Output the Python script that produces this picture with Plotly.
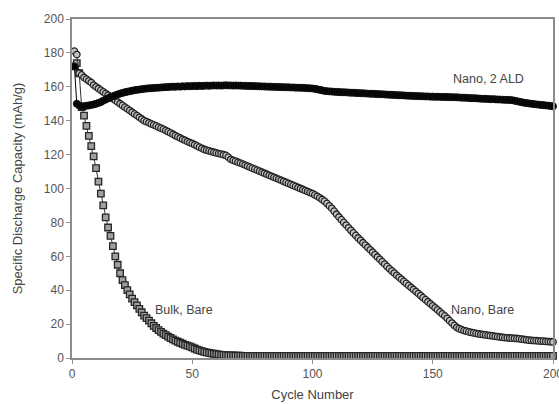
import plotly.graph_objects as go

cycles = list(range(1, 201))

nano_2ald = [
    172, 150, 149, 148.5, 148.5, 148.8, 149, 149.3, 149.6, 150,
    150.5, 151, 151.8, 152.5, 153.2, 153.8, 154.4, 155, 155.5, 156,
    156.4, 156.8, 157.1, 157.4, 157.7, 158, 158.2, 158.4, 158.6, 158.8,
    159, 159.1, 159.2, 159.3, 159.4, 159.5, 159.6, 159.7, 159.8, 159.9,
    160, 160.1, 160, 160.2, 160.1, 160.3, 160.2, 160.4, 160.3, 160.4,
    160.5, 160.4, 160.6, 160.5, 160.6, 160.7, 160.6, 160.7, 160.8, 160.7,
    160.8, 160.7, 160.8, 160.9, 160.8, 160.8, 160.7, 160.8, 160.7, 160.7,
    160.6, 160.6, 160.5, 160.5, 160.4, 160.4, 160.3, 160.3, 160.2, 160.2,
    160.1, 160.1, 160, 160, 159.9, 159.9, 159.8, 159.8, 159.7, 159.7,
    159.6, 159.6, 159.5, 159.5, 159.4, 159.4, 159.3, 159.2, 159.1, 159,
    158.8, 158.5, 158.2, 157.9, 157.6, 157.4, 157.3, 157.2, 157.1, 157,
    156.9, 156.8, 156.8, 156.7, 156.6, 156.5, 156.5, 156.4, 156.3, 156.2,
    156.2, 156.1, 156, 155.9, 155.9, 155.8, 155.7, 155.6, 155.6, 155.5,
    155.4, 155.3, 155.3, 155.2, 155.1, 155, 155, 154.9, 154.8, 154.7,
    154.7, 154.6, 154.5, 154.5, 154.4, 154.4, 154.3, 154.3, 154.2, 154.2,
    154.1, 154.1, 154.1, 154, 154, 154, 153.9, 153.9, 153.8, 153.8,
    153.7, 153.6, 153.6, 153.5, 153.4, 153.3, 153.3, 153.2, 153.1, 153,
    152.9, 152.9, 152.8, 152.7, 152.7, 152.6, 152.5, 152.5, 152.4, 152.3,
    152.3, 152.2, 152.1, 151.8, 151.5, 151.2, 150.9, 150.6, 150.4, 150.2,
    150, 149.8, 149.6, 149.5, 149.3, 149.2, 149, 148.9, 148.7, 148.5,
]

nano_bare = [
    181, 179, 168, 167, 165.5, 164.5, 163.5, 162.5, 161, 160,
    159, 158, 157, 156, 155, 154, 153, 152, 151, 150,
    149, 148, 147, 146, 145, 144, 143, 142, 141, 140,
    139.4, 138.8, 138.1, 137.5, 136.9, 136.2, 135.6, 135, 134.2, 133.5,
    132.8, 132, 131.2, 130.5, 129.8, 129, 128.4, 127.7, 127.1, 126.5,
    125.8, 125.1, 124.4, 123.7, 123, 122.6, 122.2, 121.8, 121.4, 121,
    120.6, 120.3, 119.9, 119.5, 118.5, 117.2, 116.6, 116.1, 115.5, 115,
    114.4, 113.8, 113.2, 112.6, 112, 111.4, 110.8, 110.2, 109.6, 109,
    108.4, 107.8, 107.2, 106.6, 106, 105.4, 104.8, 104.2, 103.6, 103,
    102.4, 101.8, 101.2, 100.6, 100, 99.4, 98.8, 98.2, 97.6, 97,
    96.2, 95.4, 94.5, 93.5, 92.5, 91.2, 89.8, 88.3, 86.6, 84.8,
    83.2, 81.6, 80, 78.4, 76.8, 75.3, 73.8, 72.3, 70.8, 69.4,
    68, 66.6, 65.2, 63.8, 62.4, 61, 59.6, 58.2, 56.8, 55.4,
    54, 52.7, 51.4, 50.1, 48.8, 47.6, 46.4, 45.2, 44, 42.8,
    41.6, 40.4, 39.2, 38, 36.8, 35.6, 34.4, 33.2, 32, 30.8,
    29.6, 28.4, 27.2, 26, 24.8, 23.4, 22, 20.6, 19.2, 18,
    17.3, 16.7, 16.2, 15.8, 15.4, 15.1, 14.8, 14.5, 14.2, 14,
    13.8, 13.6, 13.4, 13.2, 13, 12.8, 12.6, 12.4, 12.2, 12,
    11.9, 11.8, 11.7, 11.6, 11.5, 11.3, 11.1, 10.9, 10.7, 10.5,
    10.4, 10.3, 10.2, 10.1, 10, 9.9, 9.8, 9.7, 9.6, 9.5,
]

bulk_bare = [
    172, 174, 168, 148, 143, 137, 131, 125, 119, 112,
    104, 97, 90, 83, 77, 72, 66, 60, 55, 50,
    46, 43, 40, 37.5, 35, 33, 31, 29, 27, 25,
    23.5, 22, 20.5, 19, 17.7, 16.5, 15.4, 14.4, 13.5, 12.6,
    11.8, 11, 10.3, 9.6, 9, 8.4, 7.8, 7.3, 6.8, 6.3,
    5.6, 5.0, 4.5, 4.0, 3.6, 3.3, 3.0, 2.7, 2.5, 2.3,
    2.1, 1.9, 1.8, 1.7, 1.6, 1.5, 1.5, 1.4, 1.4, 1.4,
    1.3, 1.3, 1.3, 1.3, 1.2, 1.2, 1.2, 1.2, 1.2, 1.2,
    1.2, 1.2, 1.2, 1.2, 1.2, 1.2, 1.2, 1.2, 1.2, 1.2,
    1.2, 1.2, 1.2, 1.2, 1.2, 1.2, 1.2, 1.2, 1.2, 1.2,
    1.2, 1.2, 1.2, 1.2, 1.2, 1.2, 1.2, 1.2, 1.2, 1.2,
    1.2, 1.2, 1.2, 1.2, 1.2, 1.2, 1.2, 1.2, 1.2, 1.2,
    1.2, 1.2, 1.2, 1.2, 1.2, 1.2, 1.2, 1.2, 1.2, 1.2,
    1.2, 1.2, 1.2, 1.2, 1.2, 1.2, 1.2, 1.2, 1.2, 1.2,
    1.2, 1.2, 1.2, 1.2, 1.2, 1.2, 1.2, 1.2, 1.2, 1.2,
    1.2, 1.2, 1.2, 1.2, 1.2, 1.2, 1.2, 1.2, 1.2, 1.2,
    1.2, 1.2, 1.2, 1.2, 1.2, 1.2, 1.2, 1.2, 1.2, 1.2,
    1.2, 1.2, 1.2, 1.2, 1.2, 1.2, 1.2, 1.2, 1.2, 1.2,
    1.2, 1.2, 1.2, 1.2, 1.2, 1.2, 1.2, 1.2, 1.2, 1.2,
    1.2, 1.2, 1.2, 1.2, 1.2, 1.2, 1.2, 1.2, 1.2, 1.2,
]

labels = ["Bulk, Bare", "Nano, Bare", "Nano, 2 ALD"]
label_x = [46.5, 170.5, 173]
label_y = [28.5, 28.5, 164.5]

x_ticks = [0, 50, 100, 150, 200]
y_ticks = [0, 20, 40, 60, 80, 100, 120, 140, 160, 180, 200]

FONT = "Liberation Sans, Arial, sans-serif"

fig = go.Figure()
fig.add_trace(go.Scatter(
    x=cycles, y=bulk_bare, mode="lines+markers", name=labels[0],
    line=dict(color="#333333", width=1),
    marker=dict(symbol="square", size=6.5, color="#a0a0a0",
                line=dict(color="#262626", width=1.3)),
    cliponaxis=False,
))
fig.add_trace(go.Scatter(
    x=cycles, y=nano_bare, mode="lines+markers", name=labels[1],
    line=dict(color="#333333", width=1),
    marker=dict(symbol="circle", size=6.5, color="#c4c4c4",
                line=dict(color="#222222", width=1.3)),
    cliponaxis=False,
))
fig.add_trace(go.Scatter(
    x=cycles, y=nano_2ald, mode="lines+markers", name=labels[2],
    line=dict(color="#000000", width=1),
    marker=dict(symbol="circle", size=7, color="#000000",
                line=dict(color="#111111", width=1)),
    cliponaxis=False,
))

for t, xx, yy in zip(labels, label_x, label_y):
    fig.add_annotation(x=xx, y=yy, text=t, showarrow=False,
                       font=dict(family=FONT, size=12.5, color="#444444"))

axis_common = dict(
    showgrid=False, zeroline=False, showline=True, linecolor="#8c8c8c",
    linewidth=1.5, mirror=True, ticks="outside", ticklen=4,
    tickcolor="#8c8c8c", tickwidth=1, automargin=False,
    ticklabeloverflow="allow",
    tickfont=dict(family=FONT, size=12, color="#555555"),
)

fig.update_layout(
    width=559, height=404,
    margin=dict(l=72, r=6, t=19, b=46),
    paper_bgcolor="white", plot_bgcolor="white",
    showlegend=False,
    xaxis=dict(range=[0, 200], tickvals=x_ticks,
               title=dict(text="Cycle Number", standoff=10,
                          font=dict(family=FONT, size=13, color="#444444")),
               **axis_common),
    yaxis=dict(range=[0, 200], tickvals=y_ticks,
               title=dict(text="Specific Discharge Capacity (mAh/g)", standoff=18,
                          font=dict(family=FONT, size=13, color="#444444")),
               **axis_common),
)

fig.write_html(
    "out.html",
    config={"displayModeBar": False},
    post_script="document.body.style.margin='0';document.body.style.overflow='hidden';",
)
